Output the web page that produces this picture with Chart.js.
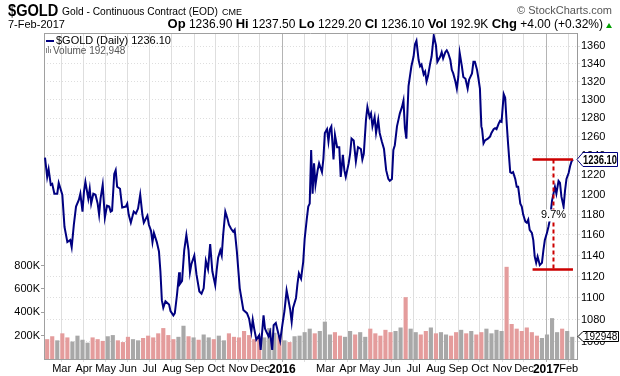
<!DOCTYPE html>
<html>
<head>
<meta charset="utf-8">
<script src="https://cdn.jsdelivr.net/npm/chart.js@4.4.1/dist/chart.umd.min.js"></script>
<style>
body { margin: 0; background: #fff; }
#wrap { position: relative; width: 620px; height: 376px; font-family: 'Liberation Sans', Arial, sans-serif; }
#c { position: absolute; left: 0; top: 0; }
.t { position: absolute; white-space: nowrap; color: #000; }
.t b { font-size: 13px; }
</style>
</head>
<body>
<div id="wrap">
<canvas id="c" width="620" height="376"></canvas>
<div class="t" style="left:8px;top:1px;font-size:17px;font-weight:bold;transform:scaleX(0.86);transform-origin:left;">$GOLD</div>
<div class="t" style="left:62px;top:5px;font-size:11px;transform:scaleX(0.93);transform-origin:left;">Gold - Continuous Contract (EOD)</div>
<div class="t" style="left:222px;top:7px;font-size:9px;">CME</div>
<div class="t" style="right:8px;top:4px;font-size:11px;color:#555;">&copy; StockCharts.com</div>
<div class="t" style="left:8px;top:18px;font-size:11px;">7-Feb-2017</div>
<div class="t" style="right:17px;top:16px;font-size:12px;"><b>Op</b> 1236.90 <b>Hi</b> 1237.50 <b>Lo</b> 1229.20 <b>Cl</b> 1236.10 <b>Vol</b> 192.9K <b>Chg</b> +4.00 (+0.32%)</div>
<div style="position:absolute;right:8px;top:23px;width:0;height:0;border-left:3px solid transparent;border-right:3px solid transparent;border-bottom:5px solid #00a000;"></div>
<div style="position:absolute;left:46px;top:40px;width:8px;height:2px;background:#000080;"></div>
<div class="t" style="left:56px;top:34px;font-size:11px;">$GOLD (Daily) 1236.10</div>
<div style="position:absolute;left:46px;top:48px;width:1px;height:5px;background:#888;"></div>
<div style="position:absolute;left:48px;top:46px;width:1px;height:7px;background:#888;"></div>
<div style="position:absolute;left:50px;top:49px;width:1px;height:4px;background:#888;"></div>
<div class="t" style="left:53px;top:45px;font-size:10px;color:#555;">Volume 192,948</div>
</div>
<script>
// days counted from 6-Feb-2015 (first bar of the chart)
const startDate = Date.UTC(2015, 1, 6);

const priceDays = [
  0,3,5,8,10,13,17,19,24,27,31,35,37,40,43,47,49,52,54,56,60,62,64,67,70,73,75,77,80,83,86,89,91,93,96,98,100,104,107,112,114,116,119,123,126,129,132,135,137,142,144,147,149,151,155,158,160,162,164,167,172,174,178,180,
  183,186,187,190,193,196,199,201,203,207,210,214,217,220,223,226,229,232,236,238,240,243,245,247,250,253,255,258,261,263,266,270,275,280,283,286,288,290,293,297,299,303,305,307,310,312,315,317,320,323,326,329,332,335,337,340,342,344,348,350,352,355,358,360,363,365,367,
  369,371,373,375,378,380,384,386,388,391,393,395,397,400,402,405,408,410,413,415,417,421,423,425,428,431,434,438,440,442,445,447,450,452,454,457,459,462,464,467,470,473,476,478,481,483,485,488,490,492,495,497,499,501,504,506,508,511,513,515,518,520,522,525,527,529,531,534,536,539,542,544,548,550,552,
  555,557,559,562,564,566,569,571,573,575,578,580,583,586,588,592,594,596,599,601,603,605,606,608,610,614,617,619,622,624,626,629,631,633,636,638,640,642,645,647,649,652,654,656,659,661,663,666,668,670,672,675,677,679,681,683,686,689,691,693,696,698,700,703,705,707,709,712,714,716,719,721,723,726,728,730,732
];
const priceClose = [
  1238,1218,1226,1210,1211,1201,1201,1212,1200,1168,1153,1155,1148,1170,1188,1195,1201,1183,1203,1213,1196,1206,1191,1201,1200,1191,1180,1196,1210,1177,1189,1188,1183,1184,1221,1225,1208,1206,1187,1188,1191,1180,1172,1183,1181,1186,1200,1180,1172,1179,1170,1164,1153,1162,1153,1144,1125,1098,1091,1097,1094,1088,1084,1086,
  1103,1124,1113,1116,1145,1160,1145,1124,1132,1140,1122,1106,1104,1109,1135,1127,1151,1125,1112,1126,1138,1145,1140,1160,1183,1176,1170,1166,1163,1165,1144,1109,1089,1086,1081,1069,1080,1072,1062,1066,1053,1084,1072,1069,1065,1069,1053,1075,1077,1069,1061,1075,1088,1107,1100,1089,1078,1091,1100,1113,1123,1118,1134,1156,1176,1188,1191,
  1246,1201,1232,1210,1225,1232,1223,1237,1264,1268,1255,1268,1271,1236,1262,1249,1249,1218,1241,1225,1218,1232,1242,1258,1256,1234,1249,1247,1236,1242,1278,1292,1281,1285,1271,1281,1264,1278,1264,1255,1247,1225,1216,1214,1216,1246,1251,1271,1278,1285,1292,1299,1269,1258,1315,1326,1337,1348,1362,1366,1344,1337,1339,1328,1331,1320,1326,1340,1348,1372,1361,1342,1348,1353,1346,
  1353,1355,1352,1344,1333,1329,1320,1312,1325,1352,1337,1325,1323,1312,1322,1329,1342,1342,1333,1323,1312,1271,1268,1253,1256,1258,1260,1264,1268,1269,1268,1274,1277,1276,1306,1302,1276,1253,1223,1222,1223,1216,1208,1208,1191,1188,1180,1173,1172,1175,1165,1162,1155,1139,1133,1139,1131,1133,1145,1155,1162,1168,1175,1194,1201,1208,1201,1214,1212,1198,1188,1204,1216,1222,1229,1234,1236.1
];

// weekly volume, thousands of contracts
const volumeK = [
  170,195,160,220,185,150,200,165,140,185,
  170,155,195,205,160,145,190,170,160,180,
  200,185,220,265,205,170,190,285,195,185,
  165,210,185,170,200,160,220,190,185,240,
  205,170,195,185,265,225,200,160,145,195,
  200,230,260,220,240,320,210,230,200,190,
  240,210,230,190,260,220,200,250,230,240,
  270,530,260,230,210,240,270,220,230,210,
  200,230,250,220,240,210,230,260,220,250,
  240,790,300,260,240,270,230,200,180,210,
  350,230,260,240,190
];
const lastVolume = 192948;

const priceTicks = [1060,1080,1100,1120,1140,1160,1180,1200,1220,1240,1260,1280,1300,1320,1340,1360];
const volTicks = [200000, 400000, 600000, 800000];
const volTickLabels = ['200K', '400K', '600K', '800K'];

const monthTicks = ['2015-03-01','2015-04-01','2015-05-01','2015-06-01','2015-07-01','2015-08-01','2015-09-01','2015-10-01','2015-11-01','2015-12-01',
  '2016-01-01','2016-02-01','2016-03-01','2016-04-01','2016-05-01','2016-06-01','2016-07-01','2016-08-01','2016-09-01','2016-10-01','2016-11-01','2016-12-01',
  '2017-01-01','2017-02-01'];
const monthLabels = ['Mar','Apr','May','Jun','Jul','Aug','Sep','Oct','Nov','Dec',
  '2016','','Mar','Apr','May','Jun','Jul','Aug','Sep','Oct','Nov','Dec',
  '2017','Feb'];

// 9.7% swing marker: from the Dec low to the last close
const swingDays = [676, 732, 705];
const swingVals = [1126.8, 1236.1];
const swingText = '9.7%';

function dayOf(s) {
  const p = s.split('-').map(Number);
  return (Date.UTC(p[0], p[1] - 1, p[2]) - startDate) / 864e5;
}
const monthDays = monthTicks.map(dayOf);

function priceAt(d) {
  let v = priceClose[0];
  for (let i = 0; i < priceDays.length; i++) {
    if (priceDays[i] <= d) v = priceClose[i];
  }
  return v;
}

const priceData = priceDays.map((d, i) => ({x: d, y: priceClose[i]}));
const volData = volumeK.map((k, i) => ({x: i * 7 + 3, y: k * 1000}));
const volColors = volumeK.map((k, i) =>
  priceAt(i * 7 + 6) < priceAt(i * 7 - 1) ? '#e49c9c' : '#a8a8a8');

const overlay = {
  id: 'overlay',
  afterDatasetsDraw(chart) {
    const {ctx, chartArea: a} = chart;
    const x = chart.scales.x, y = chart.scales.y;
    ctx.save();
    ctx.strokeStyle = '#a0a0a0';
    ctx.lineWidth = 1;
    ctx.beginPath();
    ctx.moveTo(a.left, a.top + 0.5);
    ctx.lineTo(a.right, a.top + 0.5);
    ctx.stroke();

    const x0 = x.getPixelForValue(swingDays[0]);
    const x1 = x.getPixelForValue(swingDays[1]);
    const xm = x.getPixelForValue(swingDays[2]);
    const yLo = y.getPixelForValue(swingVals[0]);
    const yHi = y.getPixelForValue(swingVals[1]);
    ctx.strokeStyle = '#cc0000';
    ctx.lineWidth = 2.5;
    ctx.beginPath();
    ctx.moveTo(x0, yHi); ctx.lineTo(x1, yHi);
    ctx.moveTo(x0, yLo); ctx.lineTo(x1, yLo);
    ctx.stroke();
    ctx.lineWidth = 2;
    ctx.setLineDash([4, 3]);
    ctx.beginPath();
    ctx.moveTo(xm, yHi); ctx.lineTo(xm, yLo);
    ctx.stroke();
    ctx.setLineDash([]);
    ctx.font = '11px "Liberation Sans"';
    const tw = ctx.measureText(swingText).width;
    const ty = (yHi + yLo) / 2 + 1;
    ctx.fillStyle = '#fff';
    ctx.fillRect(xm - tw / 2 - 1, ty - 6, tw + 2, 12);
    ctx.fillStyle = '#000';
    ctx.textAlign = 'center';
    ctx.textBaseline = 'middle';
    ctx.fillText(swingText, xm, ty);
    ctx.restore();
  },
  afterDraw(chart) {
    const {ctx, chartArea: a} = chart;
    const y = chart.scales.y, v = chart.scales.v;
    ctx.save();
    // last price tag
    let yc = Math.round(y.getPixelForValue(priceClose[priceClose.length - 1])) + 0.5;
    ctx.beginPath();
    ctx.moveTo(a.right, yc);
    ctx.lineTo(a.right + 6, yc - 7);
    ctx.lineTo(617.5, yc - 7);
    ctx.lineTo(617.5, yc + 7);
    ctx.lineTo(a.right + 6, yc + 7);
    ctx.closePath();
    ctx.fillStyle = '#fff';
    ctx.fill();
    ctx.strokeStyle = '#000080';
    ctx.lineWidth = 1;
    ctx.stroke();
    ctx.fillStyle = '#000';
    ctx.font = 'bold 13px "Liberation Sans"';
    ctx.textBaseline = 'middle';
    ctx.fillText('1236.10', a.right + 6, yc + 1, 34);
    // last volume tag
    yc = Math.round(v.getPixelForValue(lastVolume)) + 0.5;
    ctx.beginPath();
    ctx.moveTo(a.right + 1, yc);
    ctx.lineTo(a.right + 6, yc - 5);
    ctx.lineTo(618.5, yc - 5);
    ctx.lineTo(618.5, yc + 5);
    ctx.lineTo(a.right + 6, yc + 5);
    ctx.closePath();
    ctx.fillStyle = '#fff';
    ctx.fill();
    ctx.strokeStyle = '#000';
    ctx.stroke();
    ctx.fillStyle = '#000';
    ctx.font = '10px "Liberation Sans"';
    ctx.fillText(String(lastVolume), a.right + 7, yc + 1, 34);
    ctx.restore();
  }
};

const chart = new Chart(document.getElementById('c').getContext('2d'), {
  type: 'bar',
  data: {
    datasets: [
      {
        type: 'line',
        label: '$GOLD (Daily)',
        data: priceData,
        yAxisID: 'y',
        borderColor: '#000080',
        borderWidth: 2,
        pointRadius: 0,
        tension: 0,
        order: 0
      },
      {
        type: 'bar',
        label: 'Volume',
        data: volData,
        yAxisID: 'v',
        backgroundColor: volColors,
        barPercentage: 1,
        categoryPercentage: 0.82,
        order: 1
      }
    ]
  },
  options: {
    responsive: false,
    animation: false,
    devicePixelRatio: 1,
    layout: {padding: {top: 33, left: 0, right: 0, bottom: 0}},
    plugins: {legend: {display: false}, tooltip: {enabled: false}},
    scales: {
      x: {
        type: 'linear',
        min: -1.4,
        max: 737.6,
        offset: false,
        afterBuildTicks: (s) => { s.ticks = monthDays.map(d => ({value: d})); },
        afterFit: (s) => { s.height = 17; },
        grid: {
          offset: false,
          color: (c) => (c.tick && (c.tick.value === monthDays[10] || c.tick.value === monthDays[22])) ? '#b4b4b4' : '#dedede',
          tickLength: 3
        },
        border: {color: '#a0a0a0'},
        ticks: {
          autoSkip: false,
          maxRotation: 0,
          padding: 0,
          color: '#000',
          callback: (val, i) => monthLabels[i],
          font: (c) => (monthLabels[c.index] || '').startsWith('20')
            ? {family: 'Liberation Sans', size: 12, weight: 'bold'}
            : {family: 'Liberation Sans', size: 11}
        }
      },
      y: {
        type: 'logarithmic',
        position: 'right',
        min: 1044.9,
        max: 1375.0,
        afterBuildTicks: (s) => { s.ticks = priceTicks.map(v => ({value: v})); },
        afterFit: (s) => { s.width = 43; },
        grid: {color: '#dedede', tickLength: 3},
        border: {color: '#999', dash: [1, 2]},
        ticks: {
          padding: 1,
          color: '#000',
          font: {family: 'Liberation Sans', size: 11},
          callback: (val) => String(val)
        }
      },
      v: {
        type: 'linear',
        position: 'left',
        min: 0,
        max: 2794000,
        afterBuildTicks: (s) => { s.ticks = volTicks.map(v => ({value: v})); },
        afterFit: (s) => { s.width = 44; },
        grid: {drawOnChartArea: false, color: '#a0a0a0', tickLength: 3},
        border: {color: '#a0a0a0'},
        ticks: {
          padding: 1,
          color: '#000',
          font: {family: 'Liberation Sans', size: 11},
          callback: (val, i) => volTickLabels[i]
        }
      }
    }
  },
  plugins: [overlay]
});
</script>
</body>
</html>
